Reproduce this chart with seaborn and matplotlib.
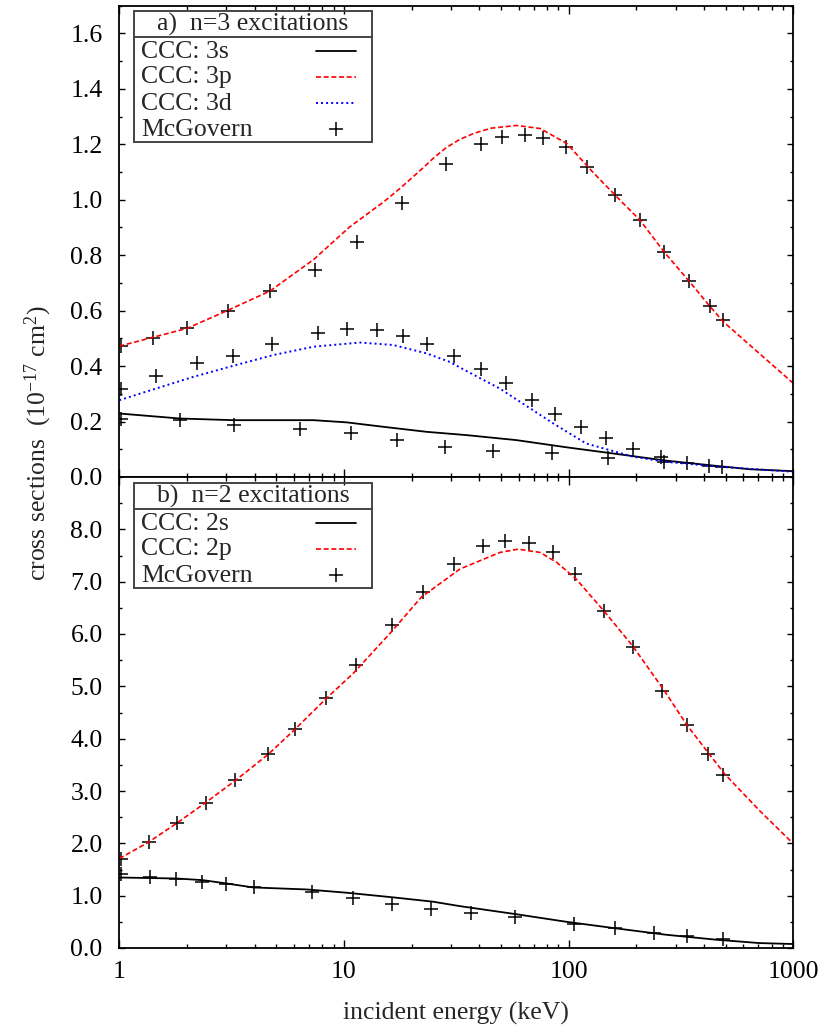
import numpy as np
import pandas as pd
import matplotlib
matplotlib.use("Agg")
import matplotlib.pyplot as plt
import seaborn as sns
from matplotlib.lines import Line2D
from matplotlib.patches import Rectangle
from matplotlib.ticker import FixedLocator, MultipleLocator, LogLocator, NullFormatter, FuncFormatter

# ---------------- data ----------------
# panel a) n=3
e_3s_ccc = [1.0, 1.86, 3.21, 7.32, 10.3, 15.0, 23.3, 35.2, 58.6, 98.1, 164, 272, 455, 640, 1000]
v_3s_ccc = [0.229, 0.211, 0.205, 0.205, 0.197, 0.181, 0.163, 0.151, 0.133, 0.107, 0.083, 0.059, 0.040, 0.028, 0.021]

e_3p_ccc = [1.0, 2.0, 3.0, 4.69, 7.32, 10.6, 15.0, 17.7, 21.8, 25.0, 28.5, 32.8, 38.0, 45.0, 58.6, 74.7,
            98.1, 128, 164, 208, 266, 344, 425, 488, 640, 1000]
v_3p_ccc = [0.472, 0.536, 0.599, 0.671, 0.784, 0.902, 0.992, 1.040, 1.105, 1.150, 1.188, 1.218, 1.240, 1.258, 1.268, 1.257,
            1.203, 1.100, 1.010, 0.926, 0.812, 0.706, 0.616, 0.560, 0.476, 0.338]

e_3d_ccc = [1.0, 1.47, 2.13, 3.21, 4.85, 7.32, 11.8, 16.6, 23.3, 29.6, 32.8, 49.4, 85.5, 119.6, 194, 270, 469, 1000]
v_3d_ccc = [0.277, 0.320, 0.361, 0.401, 0.440, 0.470, 0.485, 0.476, 0.446, 0.415, 0.395, 0.319, 0.193, 0.121, 0.073, 0.055, 0.037, 0.019]

e_3s_mcg = [1.02, 1.86, 3.25, 6.37, 10.7, 17.3, 28.1, 45.9, 84.0, 150, 265, 423]
v_3s_mcg = [0.211, 0.205, 0.187, 0.172, 0.157, 0.133, 0.107, 0.094, 0.085, 0.070, 0.053, 0.041]
e_3p_mcg = [1.02, 1.41, 2.01, 3.06, 4.69, 7.43, 11.4, 18.1, 28.4, 40.6, 50.3, 64.1, 77.1, 97.0,
            121, 161, 208, 266, 344, 425, 488]
v_3p_mcg = [0.472, 0.502, 0.536, 0.599, 0.671, 0.746, 0.848, 0.988, 1.128, 1.201, 1.226, 1.232, 1.223, 1.190,
            1.118, 1.016, 0.926, 0.812, 0.706, 0.616, 0.566]
e_3d_mcg = [1.02, 1.46, 2.21, 3.20, 4.80, 7.69, 10.3, 14.0, 18.3, 23.5, 30.9, 40.7, 52.6, 68.4,
            87.2, 113, 146, 193, 259, 337, 484]
v_3d_mcg = [0.316, 0.364, 0.410, 0.436, 0.478, 0.518, 0.534, 0.530, 0.509, 0.479, 0.437, 0.388, 0.338, 0.277,
            0.227, 0.179, 0.139, 0.100, 0.073, 0.052, 0.035]

# panel b) n=2
e_2s_ccc = [1.0, 1.8, 2.36, 3.0, 3.95, 6.8, 10.3, 16.6, 24.9, 32.8, 58.6, 98.0, 164, 272, 455, 708, 1000]
v_2s_ccc = [1.347, 1.328, 1.296, 1.233, 1.157, 1.119, 1.056, 0.967, 0.885, 0.800, 0.645, 0.500, 0.373, 0.253, 0.158, 0.094, 0.076]

e_2p_ccc = [1.0, 1.35, 1.80, 2.43, 3.27, 4.60, 6.04, 8.37, 11.0, 16.0, 22.1, 32.8, 49.4, 59.6, 74.7,
            88.5, 108, 145, 194, 265, 335, 418, 496, 708, 1000]
v_2p_ccc = [1.708, 2.023, 2.383, 2.782, 3.194, 3.700, 4.175, 4.774, 5.249, 6.008, 6.704, 7.241, 7.558, 7.621, 7.558,
            7.368, 7.051, 6.419, 5.755, 4.934, 4.269, 3.731, 3.321, 2.624, 1.992]

e_2s_mcg = [1.02, 1.37, 1.79, 2.33, 2.98, 3.98, 7.18, 11.0, 16.3, 24.5, 36.6, 58.0, 105.5, 160.6, 240, 335, 489]
v_2s_mcg = [1.41, 1.359, 1.309, 1.252, 1.214, 1.169, 1.062, 0.960, 0.841, 0.740, 0.676, 0.588, 0.455, 0.380, 0.290, 0.228, 0.177]
e_2p_mcg = [1.02, 1.35, 1.80, 2.43, 3.27, 4.6, 6.04, 8.3, 11.3, 16.4, 22.4, 30.9, 41.7, 52.0, 66.6,
            84.8, 106.8, 143.5, 194, 261, 335, 418, 489]
v_2p_mcg = [1.708, 2.023, 2.38, 2.78, 3.21, 3.71, 4.18, 4.77, 5.408, 6.167, 6.799, 7.336, 7.685, 7.780, 7.748,
            7.558, 7.146, 6.438, 5.755, 4.920, 4.256, 3.712, 3.307]

x_ticks = [1, 10, 100, 1000]
x_tick_labels = ["1", "10", "100", "1000"]
labels_a = ["CCC: 3s", "CCC: 3p", "CCC: 3d", "McGovern"]
labels_b = ["CCC: 2s", "CCC: 2p", "McGovern"]
title_a = "a)  n=3 excitations"
title_b = "b)  n=2 excitations"
x_label = "incident energy (keV)"
y_label = "cross sections  (10$^{-17}$ cm$^{2}$)"

# ---------------- style ----------------
sns.set_theme(style="ticks")
plt.rcParams["font.family"] = ["Liberation Serif", "DejaVu Serif"]
plt.rcParams["mathtext.fontset"] = "custom"
plt.rcParams["mathtext.rm"] = "Liberation Serif"
plt.rcParams["mathtext.it"] = "Liberation Serif:italic"
FS = 18.5

W, H = 821, 1032
fig = plt.figure(figsize=(W / 100, H / 100), dpi=100)

def fx(x):
    return x / W

def fy(y):
    return 1 - y / H

left, right = 119.3, 793.3
ax1 = fig.add_axes([fx(left), fy(477), (right - left) / W, (477 - 5.7) / H])
ax2 = fig.add_axes([fx(left), fy(948), (right - left) / W, (948 - 477) / H])

solid = dict(color="black", linewidth=1.3, linestyle="-")
dashed = dict(color="#ff0000", linewidth=1.2, linestyle=(0, (3.0, 1.6)))
dotted = dict(color="#0000ff", linewidth=1.4, linestyle=(0, (1.0, 1.6)))
cross = dict(marker="+", color="black", s=95, linewidth=1.1)


def curve(ax, e, v, style):
    df = pd.DataFrame({"E": e, "sigma": v})
    sns.lineplot(data=df, x="E", y="sigma", ax=ax, estimator=None, sort=True, **style)


def points(ax, e, v):
    df = pd.DataFrame({"E": e, "sigma": v})
    sns.scatterplot(data=df, x="E", y="sigma", ax=ax, **cross)


curve(ax1, e_3s_ccc, v_3s_ccc, solid)
curve(ax1, e_3p_ccc, v_3p_ccc, dashed)
curve(ax1, e_3d_ccc, v_3d_ccc, dotted)
for e, v in [(e_3s_mcg, v_3s_mcg), (e_3p_mcg, v_3p_mcg), (e_3d_mcg, v_3d_mcg)]:
    points(ax1, e, v)

curve(ax2, e_2s_ccc, v_2s_ccc, solid)
curve(ax2, e_2p_ccc, v_2p_ccc, dashed)
for e, v in [(e_2s_mcg, v_2s_mcg), (e_2p_mcg, v_2p_mcg)]:
    points(ax2, e, v)

for ax in (ax1, ax2):
    ax.set_xscale("log")
    ax.set_xlim(1, 1000)
    ax.set_xlabel("")
    ax.set_ylabel("")
    ax.xaxis.set_major_locator(FixedLocator(x_ticks))
    ax.xaxis.set_minor_locator(LogLocator(base=10, subs=np.arange(2, 10)))
    ax.xaxis.set_minor_formatter(NullFormatter())
    for s in ax.spines.values():
        s.set_linewidth(1.3)
        s.set_color("black")
    ax.tick_params(axis="both", which="both", direction="in", top=True, right=True,
                   colors="black", labelsize=FS, width=1.0)
    ax.tick_params(axis="x", which="major", length=5.8, pad=9)
    ax.tick_params(axis="x", which="minor", length=2.8)
    ax.tick_params(axis="y", which="major", length=4.2, pad=12)
    ax.tick_params(axis="y", which="minor", length=2.2)
    if ax.get_legend() is not None:
        ax.get_legend().remove()

ax1.set_ylim(0, 1.7)
ax1.yaxis.set_major_locator(FixedLocator(np.arange(0, 1.61, 0.2)))
ax1.yaxis.set_minor_locator(MultipleLocator(0.1))
ax1.yaxis.set_major_formatter(FuncFormatter(lambda v, p: f"{v:.1f}"))
ax1.tick_params(axis="x", labelbottom=False)

ax2.set_ylim(0, 9.0)
ax2.yaxis.set_major_locator(FixedLocator(np.arange(0, 8.1, 1.0)))
ax2.yaxis.set_minor_locator(MultipleLocator(0.5))
ax2.yaxis.set_major_formatter(FuncFormatter(lambda v, p: f"{v:.1f}"))
ax2.set_xticklabels(x_tick_labels)

fig.text(fx(456), fy(1013), x_label, ha="center", va="center", fontsize=FS)
fig.text(fx(38), fy(443), y_label, ha="center", va="center", rotation=90, fontsize=FS)


# ---------------- gnuplot-style key boxes ----------------
def key(top, title, labels, styles):
    bx0, bx1 = 134, 372
    row = 26
    div = top + 25.5
    bottom = div + row * len(labels) + 1
    fig.add_artist(Rectangle((fx(bx0), fy(bottom)), (bx1 - bx0) / W, (bottom - top) / H,
                             transform=fig.transFigure, fill=False, edgecolor="#444444", linewidth=1.4))
    fig.add_artist(Line2D([fx(bx0), fx(bx1)], [fy(div), fy(div)], transform=fig.transFigure,
                          color="#444444", linewidth=1.4))
    fig.text(fx((bx0 + bx1) / 2), fy((top + div) / 2 + 1), title, ha="center", va="center", fontsize=FS)
    for i, (lab, st) in enumerate(zip(labels, styles)):
        yc = div + row * (i + 0.5) + 1
        fig.text(fx(141), fy(yc + 1), lab, ha="left", va="center", fontsize=FS)
        if st is None:
            fig.add_artist(Line2D([fx(336)], [fy(yc)], transform=fig.transFigure, marker="+",
                                  markersize=9.5, markeredgewidth=1.1, color="black", linestyle="none"))
        else:
            fig.add_artist(Line2D([fx(316), fx(356)], [fy(yc), fy(yc)], transform=fig.transFigure, **st))


key(11, title_a, labels_a, [solid, dashed, dotted, None])
key(483, title_b, labels_b, [solid, dashed, None])

fig.savefig("out.png", dpi=100)
